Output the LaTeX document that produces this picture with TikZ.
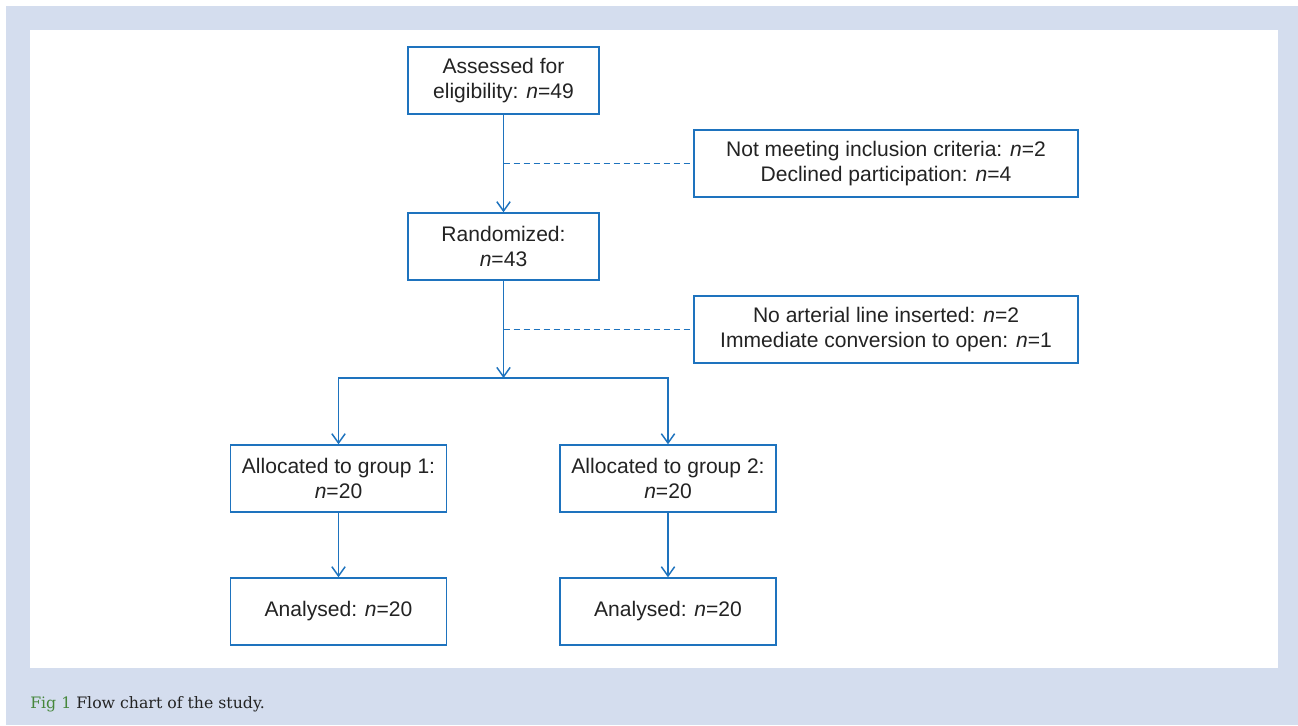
\documentclass[tikz,border=0pt]{standalone}
\usepackage{fontspec}
\setmainfont{Liberation Sans}
\newfontfamily\capfont{DejaVu Serif}
\usetikzlibrary{arrows.meta,positioning}
\definecolor{panelblue}{RGB}{212,221,238}
\definecolor{linkblue}{RGB}{30,115,190}
\definecolor{inkgray}{RGB}{35,35,35}
\definecolor{figgreen}{RGB}{70,135,60}
\begin{document}
\begin{tikzpicture}[x=0.75pt,y=-0.75pt,
    box/.style={draw=linkblue, line width=1.1pt, inner sep=0pt, align=center,
      text=inkgray, font=\fontsize{15.8}{19}\selectfont,
      minimum width=143.25pt, minimum height=50.25pt},
    wide/.style={box, minimum width=288pt},
    group/.style={box, minimum width=162pt},
    edge/.style={draw=linkblue, line width=1.1pt, -{Straight Barb[length=7pt,width=10pt]}},
    dashline/.style={draw=linkblue, line width=1.1pt, dash pattern=on 4.5pt off 3pt}
  ]
  % panel and caption
  \useasboundingbox (0,0) rectangle (1298,725);
  \fill[panelblue] (6,6) rectangle (1298,725);
  \fill[white] (30,30) rectangle (1278,668);
  \node[anchor=base west, inner sep=0pt, font=\capfont\fontsize{11.8}{14}\selectfont, text=inkgray] (cap) at (30,708)
    {\textcolor{figgreen}{Fig 1} Flow chart of the study.};

  % boxes
  \node[box] (assess) at (503.5,80.5) {Assessed for\\eligibility: \textit{n}=49};
  \node[wide] (excl1) at (886,163.5) {Not meeting inclusion criteria: \textit{n}=2\\Declined participation: \textit{n}=4};
  \node[box] (rand) at (503.5,246.5) {Randomized:\\\textit{n}=43};
  \node[wide] (excl2) at (886,329.5) {No arterial line inserted: \textit{n}=2\\Immediate conversion to open: \textit{n}=1};
  \node[group] (grp1) at (338.5,478.5) {Allocated to group 1:\\\textit{n}=20};
  \node[group] (grp2) at (668,478.5) {Allocated to group 2:\\\textit{n}=20};
  \node[group] (ana1) at (338.5,611.5) {Analysed: \textit{n}=20};
  \node[group] (ana2) at (668,611.5) {Analysed: \textit{n}=20};

  % connectors
  \coordinate (split) at (503.5,378);
  \draw[edge] (assess) -- (rand);
  \draw[dashline] (assess.south |- excl1.west) -- (excl1.west);
  \draw[edge] (rand) -- (split);
  \draw[dashline] (rand.south |- excl2.west) -- (excl2.west);
  \draw[edge] (split) -| (grp1.north);
  \draw[edge] (split) -| (grp2.north);
  \draw[edge] (grp1) -- (ana1);
  \draw[edge] (grp2) -- (ana2);
\end{tikzpicture}
\end{document}
